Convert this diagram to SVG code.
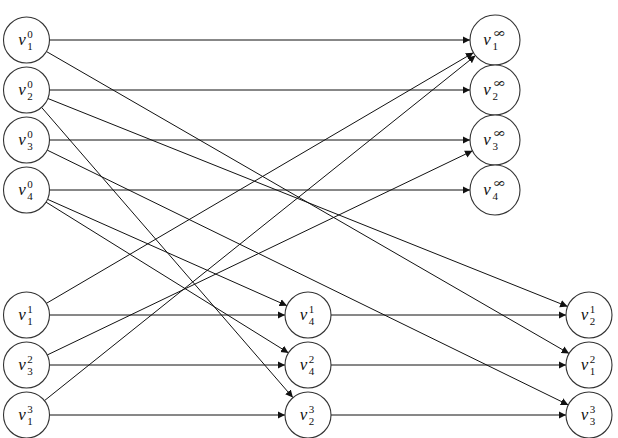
<svg xmlns="http://www.w3.org/2000/svg" width="618" height="438" viewBox="0 0 618 438">
  <style>
    .node circle { fill: #fff; stroke: #333; stroke-width: 1.1; }
    .v { font-family: "Liberation Serif", "DejaVu Serif", serif; font-style: italic; font-size: 17px; fill: #111; }
    .s { font-family: "Liberation Serif", "DejaVu Serif", serif; font-size: 11px; fill: #111; }
    .inf { font-family: "DejaVu Serif", serif; font-size: 12px; fill: #111; }
    .edges line { stroke: #111; stroke-width: 1; fill: none; marker-end: url(#arrow); }
  </style>
  <defs>
    <marker id="arrow" markerUnits="userSpaceOnUse" markerWidth="8" markerHeight="8" refX="7.5" refY="4" orient="auto">
      <path d="M0,0.3 L7.5,4 L0,7.7 z" fill="#111"/>
    </marker>
  </defs>
  <rect width="618" height="438" fill="#fff"/>

  <!-- connectors -->
  <g class="edges">
    <!-- level-0 to infinity -->
    <line x1="49.5" y1="40" x2="470" y2="40"/>
    <line x1="49.5" y1="90" x2="470" y2="90"/>
    <line x1="49.5" y1="140" x2="470" y2="140"/>
    <line x1="49.5" y1="190" x2="470" y2="190"/>
    <!-- level-0 diagonals -->
    <line x1="46.4" y1="51.5" x2="569.1" y2="353.5"/>
    <line x1="47.9" y1="98.5" x2="567.6" y2="306.5"/>
    <line x1="41.6" y1="107.4" x2="292.9" y2="397.6"/>
    <line x1="47.2" y1="150.1" x2="568.3" y2="404.9"/>
    <line x1="47.5" y1="199.3" x2="287.0" y2="305.7"/>
    <line x1="46.0" y1="202.1" x2="288.5" y2="352.9"/>
    <!-- lower-left up to infinity -->
    <line x1="46.3" y1="303.4" x2="473.4" y2="52.7"/>
    <line x1="47.2" y1="355.0" x2="472.5" y2="150.8"/>
    <line x1="44.5" y1="400.6" x2="475.5" y2="55.6"/>
    <!-- bottom rows -->
    <line x1="49.5" y1="315" x2="285" y2="315"/>
    <line x1="49.5" y1="365" x2="285" y2="365"/>
    <line x1="49.5" y1="415" x2="285" y2="415"/>
    <line x1="331" y1="315" x2="566" y2="315"/>
    <line x1="331" y1="365" x2="566" y2="365"/>
    <line x1="331" y1="415" x2="566" y2="415"/>
  </g>

  <!-- level-0 nodes -->
  <g id="v1_0" class="node"><circle cx="26.5" cy="40" r="23"/><text class="v" x="18.3" y="45">v</text><text class="s" x="27.3" y="38">0</text><text class="s" x="27.3" y="49.5">1</text></g>
  <g id="v2_0" class="node"><circle cx="26.5" cy="90" r="23"/><text class="v" x="18.3" y="95">v</text><text class="s" x="27.3" y="88">0</text><text class="s" x="27.3" y="99.5">2</text></g>
  <g id="v3_0" class="node"><circle cx="26.5" cy="140" r="23"/><text class="v" x="18.3" y="145">v</text><text class="s" x="27.3" y="138">0</text><text class="s" x="27.3" y="149.5">3</text></g>
  <g id="v4_0" class="node"><circle cx="26.5" cy="190" r="23"/><text class="v" x="18.3" y="195">v</text><text class="s" x="27.3" y="188">0</text><text class="s" x="27.3" y="199.5">4</text></g>

  <!-- infinity nodes -->
  <g id="v1_inf" class="node"><circle cx="495" cy="40" r="25"/><text class="v" x="483.3" y="45">v</text><text class="inf" x="492.5" y="37" textLength="13.5" lengthAdjust="spacingAndGlyphs">∞</text><text class="s" x="492.5" y="49.5">1</text></g>
  <g id="v2_inf" class="node"><circle cx="495" cy="90" r="25"/><text class="v" x="483.3" y="95">v</text><text class="inf" x="492.5" y="87" textLength="13.5" lengthAdjust="spacingAndGlyphs">∞</text><text class="s" x="492.5" y="99.5">2</text></g>
  <g id="v3_inf" class="node"><circle cx="495" cy="140" r="25"/><text class="v" x="483.3" y="145">v</text><text class="inf" x="492.5" y="137" textLength="13.5" lengthAdjust="spacingAndGlyphs">∞</text><text class="s" x="492.5" y="149.5">3</text></g>
  <g id="v4_inf" class="node"><circle cx="495" cy="190" r="25"/><text class="v" x="483.3" y="195">v</text><text class="inf" x="492.5" y="187" textLength="13.5" lengthAdjust="spacingAndGlyphs">∞</text><text class="s" x="492.5" y="199.5">4</text></g>

  <!-- lower-left nodes -->
  <g id="v1_1" class="node"><circle cx="26.5" cy="315" r="23"/><text class="v" x="18.3" y="320">v</text><text class="s" x="27.3" y="313">1</text><text class="s" x="27.3" y="324.5">1</text></g>
  <g id="v3_2" class="node"><circle cx="26.5" cy="365" r="23"/><text class="v" x="18.3" y="370">v</text><text class="s" x="27.3" y="363">2</text><text class="s" x="27.3" y="374.5">3</text></g>
  <g id="v1_3" class="node"><circle cx="26.5" cy="415" r="23"/><text class="v" x="18.3" y="420">v</text><text class="s" x="27.3" y="413">3</text><text class="s" x="27.3" y="424.5">1</text></g>

  <!-- middle nodes -->
  <g id="v4_1" class="node"><circle cx="308" cy="315" r="23"/><text class="v" x="299.8" y="320">v</text><text class="s" x="308.8" y="313">1</text><text class="s" x="308.8" y="324.5">4</text></g>
  <g id="v4_2" class="node"><circle cx="308" cy="365" r="23"/><text class="v" x="299.8" y="370">v</text><text class="s" x="308.8" y="363">2</text><text class="s" x="308.8" y="374.5">4</text></g>
  <g id="v2_3" class="node"><circle cx="308" cy="415" r="23"/><text class="v" x="299.8" y="420">v</text><text class="s" x="308.8" y="413">3</text><text class="s" x="308.8" y="424.5">2</text></g>

  <!-- lower-right nodes -->
  <g id="v2_1" class="node"><circle cx="589" cy="315" r="23"/><text class="v" x="580.8" y="320">v</text><text class="s" x="589.8" y="313">1</text><text class="s" x="589.8" y="324.5">2</text></g>
  <g id="v1_2" class="node"><circle cx="589" cy="365" r="23"/><text class="v" x="580.8" y="370">v</text><text class="s" x="589.8" y="363">2</text><text class="s" x="589.8" y="374.5">1</text></g>
  <g id="v3_3" class="node"><circle cx="589" cy="415" r="23"/><text class="v" x="580.8" y="420">v</text><text class="s" x="589.8" y="413">3</text><text class="s" x="589.8" y="424.5">3</text></g>
</svg>
